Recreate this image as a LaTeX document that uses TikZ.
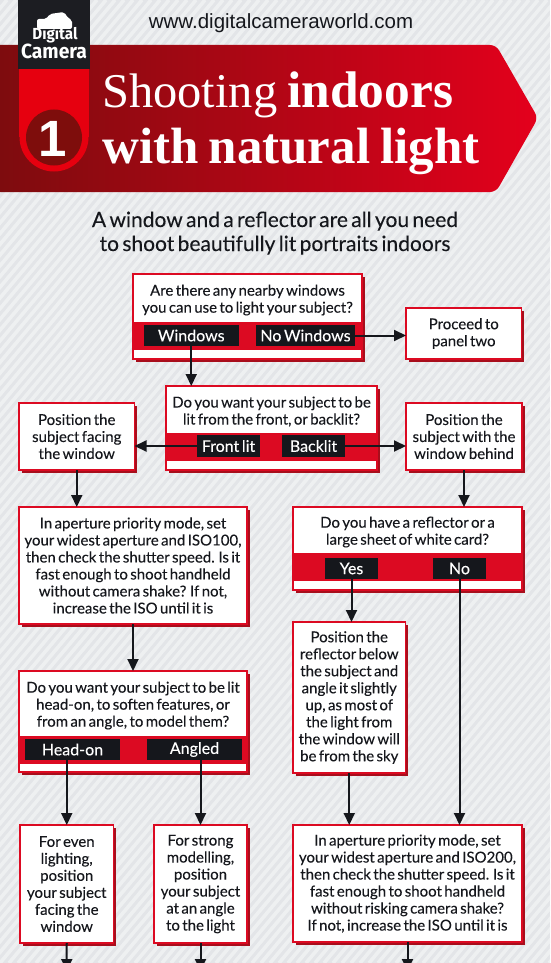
\documentclass[tikz,border=0pt]{standalone}
\usepackage{fontspec}
\usepackage{graphicx}
\setmainfont{Lato}[WordSpace=0.62,FakeBold=0.12]
\newfontfamily\titlefont{Liberation Serif}[WordSpace=0.8]
\newfontfamily\urlfont{Liberation Sans}
\newfontfamily\logofont{Fira Sans}
\usetikzlibrary{arrows.meta,shadows,calc}
\definecolor{bgbase}{HTML}{E3E5E8}
\definecolor{bgstripe}{HTML}{EEF0F1}
\definecolor{cardred}{HTML}{DC0A22}
\definecolor{shadowred}{HTML}{A80E1C}
\definecolor{ink}{HTML}{15171C}
\definecolor{bannerdark}{HTML}{7C0C0E}
\definecolor{bannermid}{HTML}{AE0716}
\definecolor{bannerlight}{HTML}{E4001C}
\definecolor{stripred}{HTML}{E6000F}
\definecolor{logoblack}{HTML}{1C1D22}
\definecolor{circledark}{HTML}{7E0D0C}
\tikzset{
  cardbox/.style={draw=cardred,fill=white,line width=1.6pt,inner sep=0pt,outer sep=0pt,align=center,
    text=ink,font=\fontsize{15}{17}\selectfont,
    drop shadow={shadow xshift=2.6pt,shadow yshift=-2.6pt,fill=shadowred,opacity=1}},
  bandbox/.style={fill=cardred,inner sep=0pt,outer sep=0pt},
  cardtext/.style={inner sep=0pt,outer sep=0pt,align=center,text=ink,font=\fontsize{15}{17}\selectfont},
  btnbox/.style={fill=ink,text=white,inner sep=0pt,outer sep=0pt,font=\fontsize{16}{18}\selectfont},
  flow/.style={draw=ink,line width=2pt,-{Triangle[length=12pt,width=11pt]}},
  subline/.style={inner sep=0pt,text=ink,anchor=base,font=\fontsize{21}{24}\selectfont},
  titleline/.style={inner sep=0pt,text=white,anchor=base west,font=\titlefont\fontsize{51}{56}\selectfont},
}
\newcommand{\cardat}[6]{%
  \pgfmathsetmacro\bw{#4-#2}\pgfmathsetmacro\bh{#5-#3}%
  \pgfmathsetmacro\cx{(#2+#4)/2}\pgfmathsetmacro\cy{(#3+#5)/2}%
  \node[cardbox,minimum width=\bw pt,minimum height=\bh pt] (#1) at (\cx,\cy) {#6};}
\newcommand{\questionat}[8]{%
  \cardat{#1}{#2}{#3}{#4}{#5}{}%
  \pgfmathsetmacro\bw{#4-#2}\pgfmathsetmacro\bh{#7-#6}%
  \pgfmathsetmacro\cx{(#2+#4)/2}\pgfmathsetmacro\cy{(#6+#7)/2}\pgfmathsetmacro\ty{(#3+#6)/2+2}%
  \node[bandbox,minimum width=\bw pt,minimum height=\bh pt] (#1-band) at (\cx,\cy) {};
  \node[cardtext] (#1-text) at (\cx,\ty) {#8};}
\newcommand{\buttonat}[6]{%
  \pgfmathsetmacro\bw{#4-#2}\pgfmathsetmacro\bh{#5-#3}%
  \pgfmathsetmacro\cx{(#2+#4)/2}\pgfmathsetmacro\cy{(#3+#5)/2}%
  \node[btnbox,minimum width=\bw pt,minimum height=\bh pt] (#1) at (\cx,\cy) {#6};}
\begin{document}
\begin{tikzpicture}[x=1pt,y=-1pt]
\useasboundingbox (0,0) rectangle (550,963);
\clip (0,0) rectangle (550,963);
% background
\fill[bgbase] (0,0) rectangle (550,963);
\foreach \s in {-810,-801,...,560}{
  \draw[bgstripe,line width=3.6pt] (\s,963) -- ({\s+808},0);
}
% banner
\shade[left color=bannerdark,middle color=bannermid,right color=bannerlight,rounded corners=6pt]
  (-10,45) -- (496,45) -- (538,118) -- (496,192) -- (-10,192) -- cycle;
% logo column
\fill[stripred] (19,69) rectangle (89,137);
\fill[stripred] (54,137) circle (34.5);
\fill[circledark] (54,137.5) circle (28);
\fill[logoblack] (18,0) rectangle (90,69);
% camera glyph
\fill[white,rounded corners=2pt] (37,19) -- (46,19) -- (50,14) -- (64,12) -- (68,18) -- (72,20) -- (72,29) -- (37,29) -- cycle;
\draw[logoblack,line width=1.2pt] (45,31) arc[start angle=180,end angle=0,radius=10];
\draw[logoblack,line width=1.2pt] (49,31) arc[start angle=180,end angle=0,radius=6];
\node[inner sep=0pt,text=white] (logoA) at (55,34.5) {\logofont\bfseries\fontsize{16}{16}\selectfont\scalebox{0.95}[1.0]{Digital}};
\node[inner sep=0pt,text=white] (logoB) at (54,51.5) {\logofont\bfseries\fontsize{20.5}{21}\selectfont\scalebox{0.94}[1.0]{Camera}};
\node[inner sep=0pt,text=white] (num) at (52.5,139) {\urlfont\fontsize{51}{51}\selectfont\bfseries 1};
% header text
\node[inner sep=0pt,text=ink] (url) at (281,23) {\urlfont\fontsize{20.5}{24}\selectfont www.digitalcameraworld.com};
\node[titleline] (titleA) at (102,107) {\fontsize{48.5}{56}\selectfont Shooting \fontsize{51.5}{56}\selectfont\textbf{indoors}};
\node[titleline] (titleB) at (102,163) {\fontsize{51}{56}\selectfont\textbf{with natural light}};
\node[subline] (subA) at (275,227) {A window and a reflector are all you need};
\node[subline] (subB) at (275,251) {to shoot beautifully lit portraits indoors};
% cards
\questionat{q1}{133}{274}{362}{359}{322}{350}{Are there any nearby windows\\you can use to light your subject?}
\buttonat{windows}{144}{325}{238.5}{346}{Windows}
\buttonat{nowindows}{256}{325}{355}{346}{No Windows}
\cardat{proceed}{406}{308}{521.5}{359}{Proceed to\\panel two}
\questionat{q2}{166}{386}{377}{470}{433}{461}{Do you want your subject to be\\lit from the front, or backlit?}
\buttonat{frontlit}{197}{435}{260}{457}{Front lit}
\buttonat{backlit}{282}{435}{345}{457}{Backlit}
\cardat{facing}{19}{403}{134.5}{470}{Position the\\subject facing\\the window}
\cardat{behind}{406}{403}{522}{470}{Position the\\subject with the\\window behind}
\cardat{iso100}{19}{507}{247}{624}{In aperture priority mode, set\\your widest aperture and ISO100,\\then check the shutter speed. Is it\\fast enough to shoot handheld\\without camera shake? If not,\\increase the ISO until it is}
\questionat{q3}{19}{671}{247}{772}{736}{764}{Do you want your subject to be lit\\head-on, to soften features, or\\from an angle, to model them?}
\buttonat{headon}{25}{739}{120}{760}{Head-on}
\buttonat{angled}{147}{739}{242}{760}{Angled}
\cardat{even}{20}{825}{113.5}{943}{For even\\lighting,\\position\\your subject\\facing the\\window}
\cardat{strong}{154}{825}{247}{943}{For strong\\modelling,\\position\\your subject\\at an angle\\to the light}
\questionat{q4}{293}{507}{522}{590}{553}{581}{Do you have a reflector or a\\large sheet of white card?}
\buttonat{yes}{325}{558}{378}{579}{Yes}
\buttonat{no}{433}{558}{486}{579}{No}
\cardat{reflector}{293}{622}{405.5}{773}{Position the\\reflector below\\the subject and\\angle it slightly\\up, as most of\\the light from\\the window will\\be from the sky}
\cardat{iso200}{293}{825}{522}{942}{In aperture priority mode, set\\your widest aperture and ISO200,\\then check the shutter speed. Is it\\fast enough to shoot handheld\\without risking camera shake?\\If not, increase the ISO until it is}
% free ends below the page
\coordinate (endA) at (66.7,971);
\coordinate (endB) at (200.5,971);
\coordinate (endC) at (407.5,971);
% connectors
\draw[flow] (nowindows.east) -- (nowindows.east -| proceed.west);
\draw[flow] (windows.south) -- (windows.south |- q2.north);
\draw[flow] (frontlit.west) -- (frontlit.west -| facing.east);
\draw[flow] (backlit.east) -- (backlit.east -| behind.west);
\draw[flow] (facing.south) -- (iso100.north -| facing.south);
\draw[flow] (behind.south) -- (q4.north -| behind.south);
\draw[flow] (iso100.south) -- (q3.north);
\draw[flow] (even.north |- headon.south) -- (even.north);
\draw[flow] (strong.north |- angled.south) -- (strong.north);
\draw[flow] (yes.south) -- (yes.south |- reflector.north);
\draw[flow] (no.south) -- (no.south |- iso200.north);
\draw[flow] (reflector.south) -- (reflector.south |- iso200.north);
\draw[flow] (even.south) -- (endA);
\draw[flow] (strong.south) -- (endB);
\draw[flow] (iso200.south) -- (endC);
\end{tikzpicture}
\end{document}
